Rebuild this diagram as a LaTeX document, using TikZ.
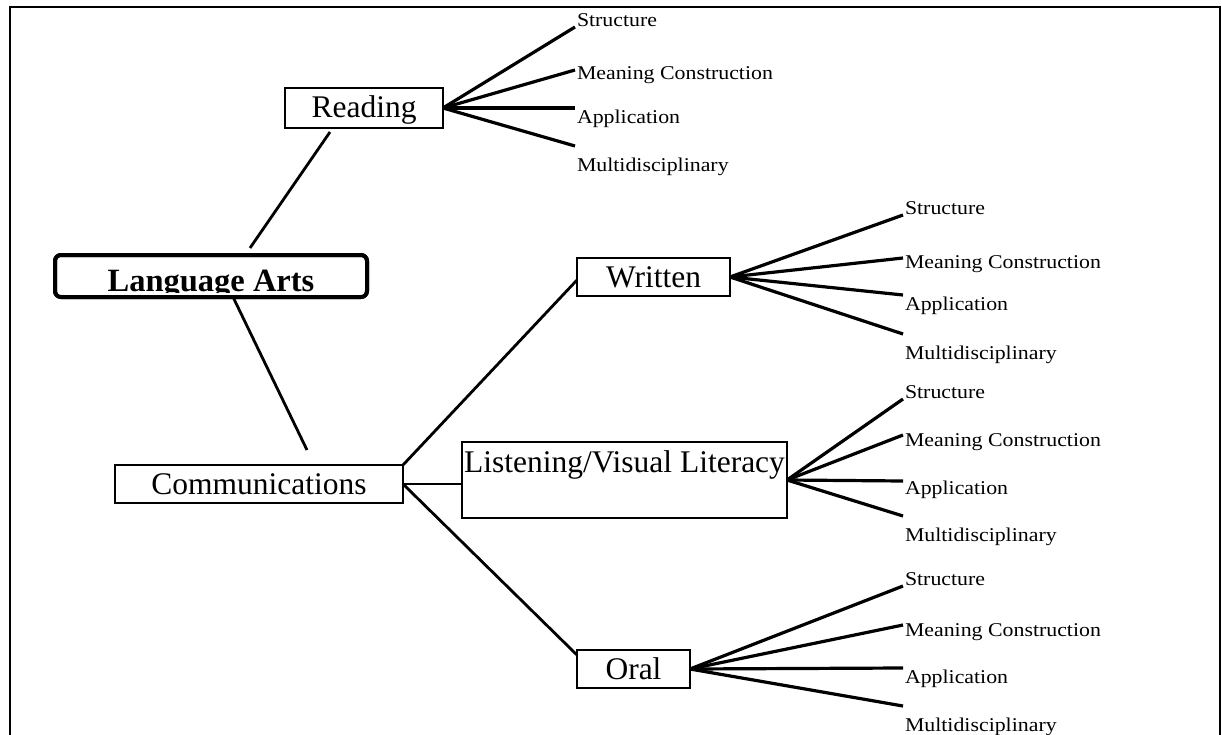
\documentclass[tikz,border=0pt]{standalone}
\usepackage{fontspec}
\setmainfont{Liberation Serif}
\newfontfamily\leaffont[FakeStretch=1.12]{Liberation Serif}
\usetikzlibrary{calc}

\tikzset{
  box/.style={draw, line width=2.2pt, outer sep=0pt, inner sep=0pt,
    minimum height=38pt, text height=20pt, text depth=0pt,
    font=\fontsize{31.5}{31.5}\selectfont},
  rootbox/.style={draw, line width=4pt, rounded corners=6pt, outer sep=0pt,
    inner sep=0pt, minimum width=312pt, minimum height=42pt,
    text height=30pt, text depth=0pt,
    font=\fontsize{32.5}{32.5}\selectfont\bfseries},
  leaf/.style={anchor=west, inner sep=0pt, outer sep=0pt,
    text height=13pt, text depth=0pt,
    font=\leaffont\fontsize{19.5}{20}\selectfont},
  link/.style={line width=2.8pt},
  fan/.style={line width=3.2pt},
}

\begin{document}
\begin{tikzpicture}[x=1pt,y=-1pt]
\useasboundingbox (0,0) rectangle (1222,735);

% outer frame
\draw[line width=2.5pt] (10,745) -- (10,7) -- (1220,7) -- (1220,745);

% main boxes; the root title sits low, its descenders hidden under the frame
\node[rootbox] (la) at (211,276) {Language Arts};
\fill[white] ($(la.south west)+(2,0)$) rectangle ($(la.south east)+(-2,-4)$);
\draw[line width=4pt, rounded corners=6pt] (la.south west) rectangle (la.north east);
\node[box, minimum width=158pt, minimum height=40pt] (reading) at (364,108) {Reading};
\node[box, minimum width=288pt] (comm) at (259,484) {Communications};
\node[box, minimum width=153pt] (written) at (653.5,277) {Written};
\node[box, minimum width=325pt, minimum height=76pt, text height=25pt,
      text depth=41pt] (listen) at (624.5,480) {Listening/Visual Literacy};
\node[box, minimum width=113pt] (oral) at (633.5,669) {Oral};

% links between the main boxes
\draw[link] ($(la.north)+(39,-7)$) -- ($(reading.south west)+(45,4)$);
\draw[link] ($(la.south)+(22,0)$) -- ($(comm.north)+(48,-15)$);
\draw[link] (comm.north east) -- ($(written.west)+(0,3)$);
\draw[link] (comm.east) -- (comm.east -| listen.west);
\draw[link] (comm.east) -- ($(oral.north west)+(0,5)$);

% Reading strands
\node[leaf] (rS) at (577,20) {Structure};
\node[leaf] (rM) at (577,73) {Meaning Construction};
\node[leaf] (rA) at (577,117) {Application};
\node[leaf] (rU) at (577,165) {Multidisciplinary};
\draw[fan] (reading.east) -- ($(rS.west)+(-2,7)$);
\draw[fan] (reading.east) -- ($(rM.west)+(-2,-3)$);
\draw[fan] (reading.east) -- ($(rA.west)+(-2,-9)$);
\draw[fan] (reading.east) -- ($(rU.west)+(-2,-19)$);

% Written strands
\node[leaf] (wS) at (905,208) {Structure};
\node[leaf] (wM) at (905,262) {Meaning Construction};
\node[leaf] (wA) at (905,304) {Application};
\node[leaf] (wU) at (905,353) {Multidisciplinary};
\draw[fan] (written.east) -- ($(wS.west)+(-2,7)$);
\draw[fan] (written.east) -- ($(wM.west)+(-2,-4)$);
\draw[fan] (written.east) -- ($(wA.west)+(-2,-9)$);
\draw[fan] (written.east) -- ($(wU.west)+(-2,-19)$);

% Listening/Visual Literacy strands
\node[leaf] (lS) at (905,392) {Structure};
\node[leaf] (lM) at (905,440) {Meaning Construction};
\node[leaf] (lA) at (905,488) {Application};
\node[leaf] (lU) at (905,535) {Multidisciplinary};
\draw[fan] (listen.east) -- ($(lS.west)+(-2,7)$);
\draw[fan] (listen.east) -- ($(lM.west)+(-2,-5)$);
\draw[fan] (listen.east) -- ($(lA.west)+(-2,-7)$);
\draw[fan] (listen.east) -- ($(lU.west)+(-2,-19)$);

% Oral strands
\node[leaf] (oS) at (905,579) {Structure};
\node[leaf] (oM) at (905,630) {Meaning Construction};
\node[leaf] (oA) at (905,677) {Application};
\node[leaf] (oU) at (905,725) {Multidisciplinary};
\draw[fan] (oral.east) -- ($(oS.west)+(-2,7)$);
\draw[fan] (oral.east) -- ($(oM.west)+(-2,-5)$);
\draw[fan] (oral.east) -- ($(oA.west)+(-2,-9)$);
\draw[fan] (oral.east) -- ($(oU.west)+(-2,-19)$);
\end{tikzpicture}
\end{document}
